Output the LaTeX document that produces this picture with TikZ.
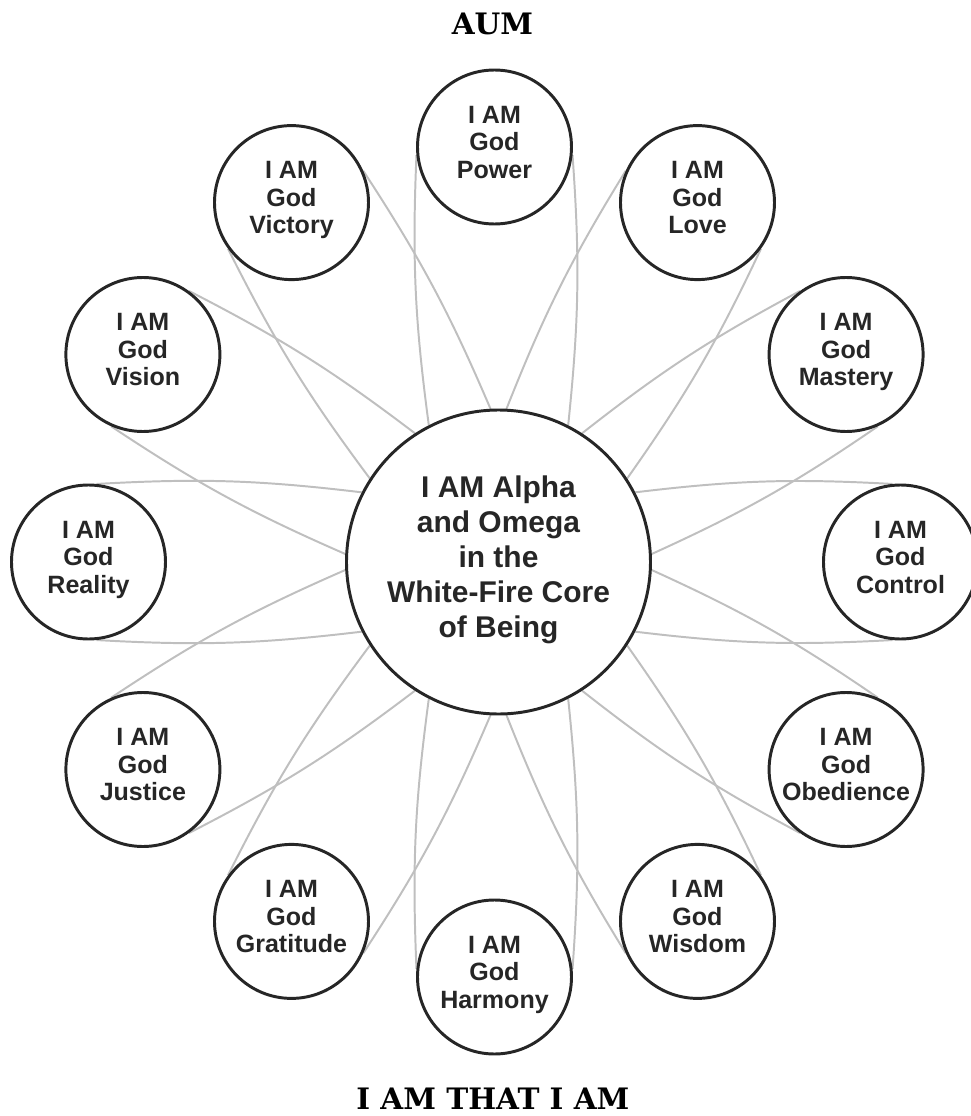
\documentclass[tikz,border=0pt]{standalone}
\usepackage{fontspec}
\setmainfont{Liberation Sans}
\newfontfamily\slabfont{DejaVu Serif}
\usetikzlibrary{backgrounds}

\begin{document}
\begin{tikzpicture}[
  virtue/.style={circle,draw=black!85,line width=2.1pt,fill=white,minimum size=3.85cm,inner sep=0pt,
    align=center,text=black!85,font=\bfseries\fontsize{17.8}{19.6}\selectfont,
    execute at end node={\rule[-0.25cm]{0pt}{0pt}}},
  corebox/.style={virtue,minimum size=7.6cm,font=\bfseries\fontsize{21.3}{24.9}\selectfont,
    execute at end node={}},
  spoke/.style={draw=black!25,line width=1.4pt},
  heading/.style={font=\slabfont\bfseries\fontsize{21}{25}\selectfont,anchor=base}
]
\useasboundingbox (-12.3625,-13.85) rectangle (11.9125,14.05);

\node[heading] (aum) at (-0.05,13.175) {AUM};
\node[heading] (thatiam) at (-0.04,-13.68) {I AM THAT I AM};

\node[corebox] (core) at (0.1,0) {I AM Alpha\\and Omega\\in the\\White-Fire Core\\of Being};

\node[virtue] (power)     at (0,10.375)      {I AM\\God\\Power};
\node[virtue] (love)      at (5.075,8.985)   {I AM\\God\\Love};
\node[virtue] (mastery)   at (8.79,5.1875)   {I AM\\God\\Mastery};
\node[virtue] (control)   at (10.15,0)       {I AM\\God\\Control};
\node[virtue] (obedience) at (8.79,-5.1875)  {I AM\\God\\Obedience};
\node[virtue] (wisdom)    at (5.075,-8.985)  {I AM\\God\\Wisdom};
\node[virtue] (harmony)   at (0,-10.375)     {I AM\\God\\Harmony};
\node[virtue] (gratitude) at (-5.075,-8.985) {I AM\\God\\Gratitude};
\node[virtue] (justice)   at (-8.79,-5.1875) {I AM\\God\\Justice};
\node[virtue] (reality)   at (-10.15,0)      {I AM\\God\\Reality};
\node[virtue] (vision)    at (-8.79,5.1875)  {I AM\\God\\Vision};
\node[virtue] (victory)   at (-5.075,8.985)  {I AM\\God\\Victory};

\begin{scope}[on background layer]
\draw [spoke] (core.117) to [bend left=5]  (power.186);
\draw [spoke] (core.63)  to [bend right=5] (power.354);
\draw [spoke] (core.87)  to [bend left=5]  (love.156);
\draw [spoke] (core.33)  to [bend right=5] (love.324);
\draw [spoke] (core.57)  to [bend left=5]  (mastery.126);
\draw [spoke] (core.3)   to [bend right=5] (mastery.294);
\draw [spoke] (core.27)  to [bend left=5]  (control.96);
\draw [spoke] (core.333) to [bend right=5] (control.264);
\draw [spoke] (core.357) to [bend left=5]  (obedience.66);
\draw [spoke] (core.303) to [bend right=5] (obedience.234);
\draw [spoke] (core.327) to [bend left=5]  (wisdom.36);
\draw [spoke] (core.273) to [bend right=5] (wisdom.204);
\draw [spoke] (core.297) to [bend left=5]  (harmony.6);
\draw [spoke] (core.243) to [bend right=5] (harmony.174);
\draw [spoke] (core.267) to [bend left=5]  (gratitude.336);
\draw [spoke] (core.213) to [bend right=5] (gratitude.144);
\draw [spoke] (core.237) to [bend left=5]  (justice.306);
\draw [spoke] (core.183) to [bend right=5] (justice.114);
\draw [spoke] (core.207) to [bend left=5]  (reality.276);
\draw [spoke] (core.153) to [bend right=5] (reality.84);
\draw [spoke] (core.177) to [bend left=5]  (vision.246);
\draw [spoke] (core.123) to [bend right=5] (vision.54);
\draw [spoke] (core.147) to [bend left=5]  (victory.216);
\draw [spoke] (core.93)  to [bend right=5] (victory.24);
\end{scope}
\end{tikzpicture}
\end{document}
